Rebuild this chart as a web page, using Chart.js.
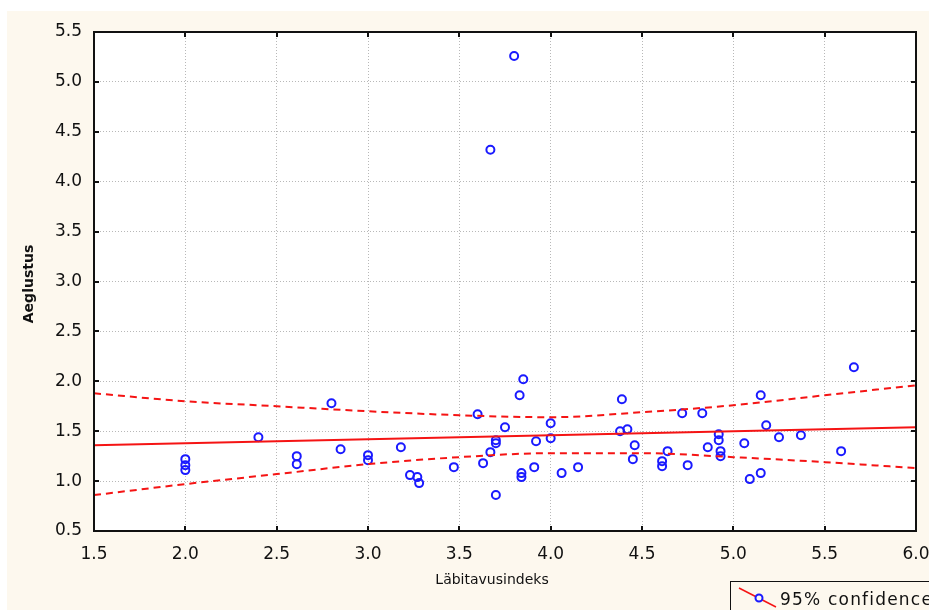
<!DOCTYPE html>
<html>
<head>
<meta charset="utf-8">
<title>Aeglustus vs Läbitavusindeks</title>
<script src="https://cdn.jsdelivr.net/npm/chart.js@4/dist/chart.umd.min.js"></script>
<style>
    html, body { margin: 0; padding: 0; background: #ffffff; }
    #wrap { width: 929px; height: 610px; }
</style>
</head>
<body>
<div id="wrap"><canvas id="scatter-chart" width="929" height="610"></canvas></div>
<script>
const labitavus = [2.0, 2.0, 2.0, 2.4, 2.61, 2.61, 2.8, 2.85, 3.0, 3.0,
    3.18, 3.23, 3.27, 3.28, 3.47, 3.6, 3.63, 3.67, 3.7, 3.7,
    3.7, 3.75, 3.83, 3.85, 3.84, 3.84, 3.91, 3.92, 4.0, 4.0,
    4.06, 4.15, 4.39, 4.38, 4.42, 4.46, 4.45, 4.61, 4.61, 4.64,
    4.75, 4.72, 4.83, 4.86, 4.92, 4.92, 4.93, 4.93, 5.06, 5.09,
    5.15, 5.15, 5.18, 5.25, 5.37, 5.59, 5.66, 3.8, 3.67];
const aeglustus = [1.22, 1.16, 1.11, 1.44, 1.25, 1.17, 1.78, 1.32, 1.26, 1.21,
    1.34, 1.06, 1.04, 0.98, 1.14, 1.67, 1.18, 1.29, 1.41, 1.38,
    0.86, 1.54, 1.86, 2.02, 1.08, 1.04, 1.14, 1.40, 1.58, 1.43,
    1.08, 1.14, 1.82, 1.50, 1.52, 1.36, 1.22, 1.20, 1.15, 1.30,
    1.16, 1.68, 1.68, 1.34, 1.47, 1.41, 1.30, 1.25, 1.38, 1.02,
    1.08, 1.86, 1.56, 1.44, 1.46, 1.30, 2.14, 5.26, 4.32];

// Fitted line endpoints
const fitX = [1.5, 6.0];
const fitY = [1.36, 1.54];

// 95% confidence band
const bandX = [1.5, 2.0, 2.5, 3.0, 3.5, 4.0, 4.5, 5.0, 5.5, 6.0];
const upperY = [1.88, 1.80, 1.75, 1.70, 1.66, 1.64, 1.69, 1.76, 1.86, 1.96];
const lowerY = [0.86, 0.97, 1.07, 1.17, 1.24, 1.28, 1.28, 1.24, 1.19, 1.13];

// Axis ticks
const xTicks = [1.5, 2.0, 2.5, 3.0, 3.5, 4.0, 4.5, 5.0, 5.5, 6.0];
const yTicks = [0.5, 1.0, 1.5, 2.0, 2.5, 3.0, 3.5, 4.0, 4.5, 5.0, 5.5];

const xTitle = 'Läbitavusindeks';
const yTitle = 'Aeglustus';
const legendText = '95% confidence';

const RED = '#f51414';
const BLUE = '#1a1aff';
const INK = '#111111';

function pairs(xs, ys) {
    return xs.map((x, i) => ({ x: x, y: ys[i] }));
}

// Background, frame, inner ticks, axis titles and legend
const decorations = {
    id: 'decorations',
    beforeDraw(chart) {
        const { ctx, chartArea: a } = chart;
        ctx.save();
        ctx.fillStyle = '#fdf8ee';
        ctx.fillRect(7, 11, chart.width - 7, chart.height - 11);
        ctx.fillStyle = '#ffffff';
        ctx.fillRect(a.left, a.top, a.right - a.left, a.bottom - a.top);
        ctx.restore();
    },
    afterDraw(chart) {
        const { ctx, chartArea: a, scales } = chart;
        ctx.save();

        // frame
        ctx.strokeStyle = INK;
        ctx.lineWidth = 2;
        ctx.strokeRect(a.left, a.top, a.right - a.left, a.bottom - a.top);

        // inward tick marks
        ctx.lineWidth = 2;
        ctx.beginPath();
        xTicks.forEach(v => {
            const px = Math.round(scales.x.getPixelForValue(v));
            ctx.moveTo(px, a.bottom); ctx.lineTo(px, a.bottom - 5);
            ctx.moveTo(px, a.top); ctx.lineTo(px, a.top + 5);
        });
        yTicks.forEach(v => {
            const py = Math.round(scales.y.getPixelForValue(v));
            ctx.moveTo(a.left, py); ctx.lineTo(a.left + 5, py);
            ctx.moveTo(a.right, py); ctx.lineTo(a.right - 5, py);
        });
        ctx.stroke();

        // axis titles
        ctx.fillStyle = INK;
        ctx.textAlign = 'center';
        ctx.textBaseline = 'middle';
        ctx.font = '14px "DejaVu Sans"';
        ctx.fillText(xTitle, 492, 580);
        ctx.save();
        ctx.translate(29, 284);
        ctx.rotate(-Math.PI / 2);
        ctx.font = 'bold 14px "DejaVu Sans"';
        ctx.fillText(yTitle, 0, 0);
        ctx.restore();

        // legend box (runs off the edge like the original)
        ctx.fillStyle = '#fdf8ee';
        ctx.fillRect(730, 581, 220, 40);
        ctx.strokeStyle = INK;
        ctx.lineWidth = 1;
        ctx.strokeRect(730.5, 581.5, 220, 40);
        ctx.strokeStyle = RED;
        ctx.lineWidth = 1.5;
        ctx.beginPath();
        ctx.moveTo(739, 588);
        ctx.lineTo(776, 607);
        ctx.stroke();
        ctx.fillStyle = '#fdf8ee';
        ctx.strokeStyle = BLUE;
        ctx.lineWidth = 2;
        ctx.beginPath();
        ctx.arc(759, 598, 3.5, 0, Math.PI * 2);
        ctx.fill();
        ctx.stroke();
        ctx.fillStyle = INK;
        ctx.textAlign = 'left';
        ctx.textBaseline = 'alphabetic';
        ctx.font = '17px "DejaVu Sans"';
        ctx.letterSpacing = '1.2px';
        ctx.fillText(legendText, 780, 605);

        ctx.restore();
    }
};

function initializeChart() {
    const ctx = document.getElementById('scatter-chart').getContext('2d');
    Chart.defaults.font.family = '"DejaVu Sans", sans-serif';

    const gridStyle = {
        color: '#b8b8b8',
        lineWidth: 1,
        drawTicks: false,
        borderDash: [1, 2]
    };

    return new Chart(ctx, {
        type: 'scatter',
        data: {
            datasets: [
                {
                    label: 'upper',
                    data: pairs(bandX, upperY),
                    showLine: true,
                    borderColor: RED,
                    borderWidth: 2,
                    borderDash: [7, 5],
                    cubicInterpolationMode: 'monotone',
                    pointRadius: 0
                },
                {
                    label: 'lower',
                    data: pairs(bandX, lowerY),
                    showLine: true,
                    borderColor: RED,
                    borderWidth: 2,
                    borderDash: [7, 5],
                    cubicInterpolationMode: 'monotone',
                    pointRadius: 0
                },
                {
                    label: 'fit',
                    data: pairs(fitX, fitY),
                    showLine: true,
                    borderColor: RED,
                    borderWidth: 2,
                    pointRadius: 0
                },
                {
                    label: legendText,
                    data: pairs(labitavus, aeglustus),
                    pointStyle: 'circle',
                    pointRadius: 4,
                    pointBorderWidth: 2,
                    pointBorderColor: BLUE,
                    pointBackgroundColor: 'rgba(0,0,0,0)',
                    borderColor: BLUE
                }
            ]
        },
        options: {
            responsive: false,
            animation: false,
            layout: {
                padding: { top: 32, right: 13, left: 0, bottom: 0 }
            },
            plugins: {
                legend: { display: false },
                tooltip: { enabled: false }
            },
            scales: {
                x: {
                    type: 'linear',
                    min: 1.5,
                    max: 6.0,
                    afterFit: scale => {
                        scale.height = 79;
                        // let the last label run off the edge instead of shrinking the plot
                        scale.paddingLeft = 0;
                        scale.paddingRight = 0;
                    },
                    afterBuildTicks: scale => {
                        scale.ticks = xTicks.map(v => ({ value: v }));
                    },
                    ticks: {
                        padding: 13,
                        color: INK,
                        font: { size: 17 },
                        callback: value => value.toFixed(1)
                    },
                    grid: gridStyle,
                    border: { display: false, dash: [1, 2] }
                },
                y: {
                    type: 'linear',
                    min: 0.5,
                    max: 5.5,
                    afterFit: scale => {
                        scale.width = 94;
                        scale.paddingTop = 0;
                        scale.paddingBottom = 0;
                    },
                    afterBuildTicks: scale => {
                        scale.ticks = yTicks.map(v => ({ value: v }));
                    },
                    ticks: {
                        padding: 12,
                        color: INK,
                        font: { size: 17 },
                        callback: value => value.toFixed(1)
                    },
                    grid: gridStyle,
                    border: { display: false, dash: [1, 2] }
                }
            }
        },
        plugins: [decorations]
    });
}

document.addEventListener('DOMContentLoaded', () => {
    initializeChart();
});
</script>
</body>
</html>
